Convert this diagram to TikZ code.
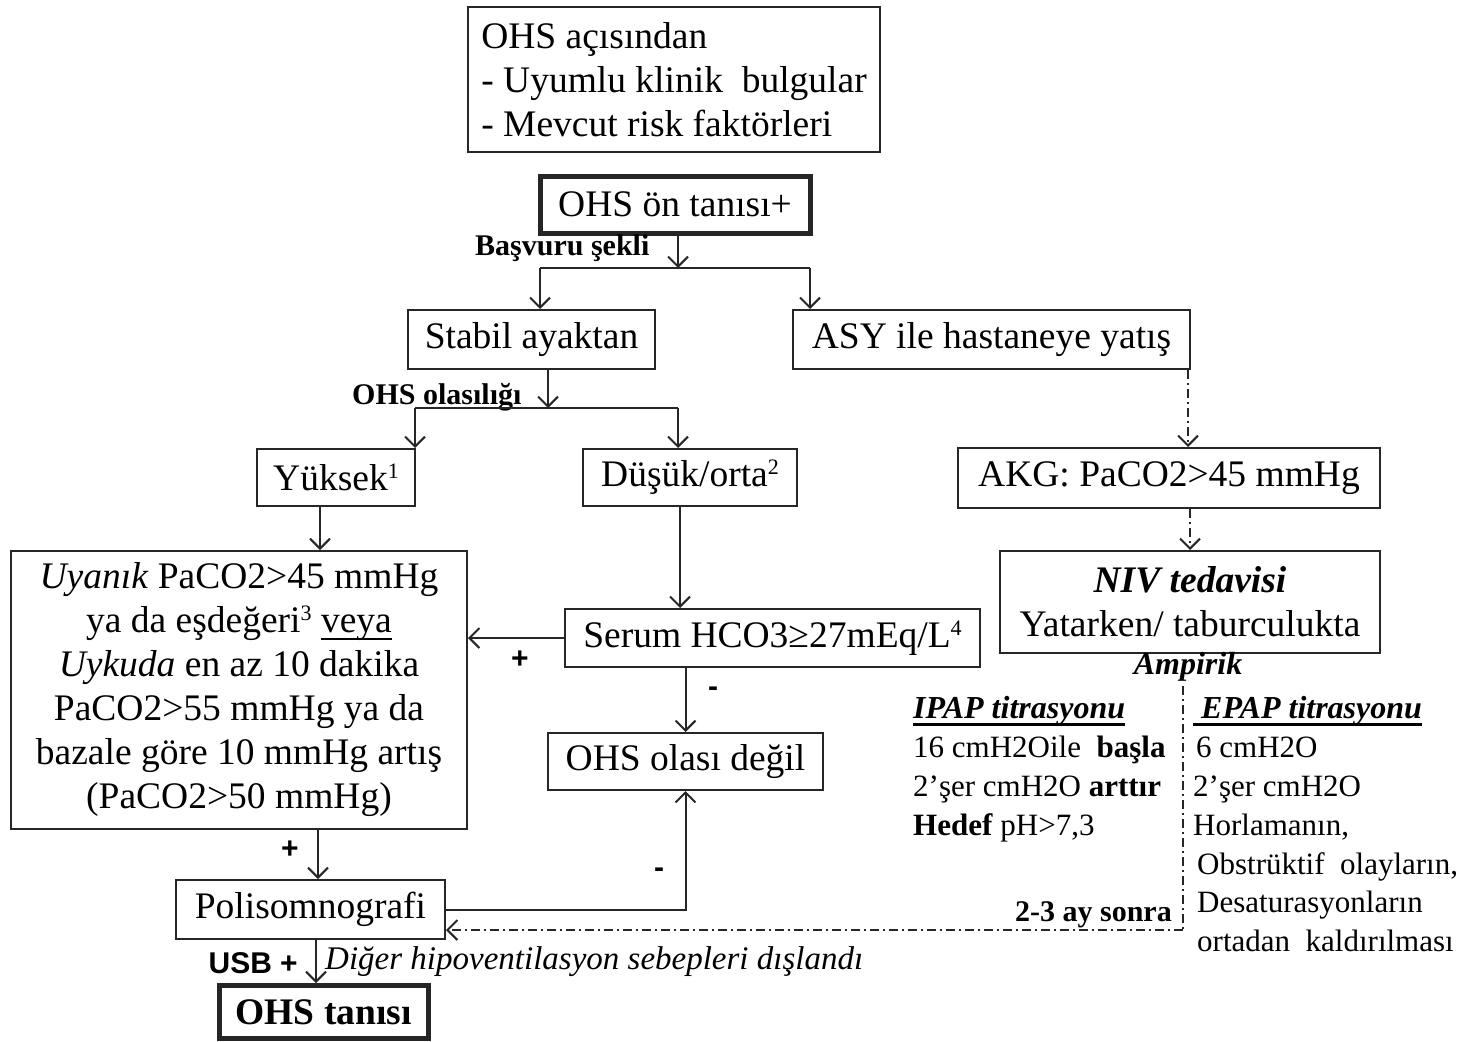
\documentclass[tikz,border=0pt]{standalone}
\usepackage{fontspec}
\setmainfont{Liberation Serif}
\newfontfamily\labelsans{Liberation Sans}
\usetikzlibrary{arrows.meta,calc}
\definecolor{linecol}{HTML}{262626}
\newcommand\fsmain{\fontsize{37.5}{44}\selectfont}
\newcommand\fssmall{\fontsize{31}{39}\selectfont}
% small raised footnote number
\newcommand\supnum[1]{\raisebox{12pt}{\fontsize{22}{22}\selectfont #1}}
% underline with a rule of given thickness, a fixed drop below the baseline
\newcommand\ulbar[2][2pt]{\leavevmode\setbox0\hbox{#2}%
  \rlap{\vrule width \wd0 height -5pt depth \dimexpr5pt+#1\relax}\box0}
\begin{document}
\begin{tikzpicture}[x=1pt,y=-1pt,
  box/.style={draw=linecol, line width=2pt, inner sep=0pt, align=center, font=\fsmain},
  heavybox/.style={box, line width=5pt},
  plain/.style={draw=linecol, line width=2pt},
  arr/.style={plain, -{Straight Barb[length=10pt,width=20pt,line width=2pt]}},
  dashdot/.style={plain, dash pattern=on 9pt off 4pt on 2pt off 4pt},
  tag/.style={font=\fontsize{30}{30}\selectfont\bfseries, inner sep=0pt},
  sign/.style={font=\labelsans\fontsize{30}{30}\selectfont\bfseries, inner sep=0pt},
  coltext/.style={font=\fssmall, inner sep=0pt, anchor=base west},
  colhead/.style={coltext, font=\fontsize{32}{39}\selectfont\bfseries\itshape},
]
\useasboundingbox (0,0) rectangle (1471,1041);
\fill[white] (0,0) rectangle (1471,1041);

% boxes
\node[box, align=left, minimum width=412pt, minimum height=145pt] (risk) at (674,79.5)
  {OHS açısından\\- Uyumlu klinik\ \ bulgular\\- Mevcut risk faktörleri};
\node[heavybox, minimum width=270pt, minimum height=57pt] (pre) at (675,204.5) {OHS ön tanısı+};
\node[box, minimum width=247pt, minimum height=59pt] (stabil) at (531.5,339.5) {Stabil ayaktan};
\node[box, minimum width=397pt, minimum height=59pt] (asy) at (991.5,339.5) {ASY ile hastaneye yatış};
\node[box, minimum width=158pt, minimum height=57pt] (yuksek) at (336,477.5) {Yüksek\supnum{1}};
\node[box, minimum width=214pt, minimum height=57pt] (dusuk) at (690,477.5) {Düşük/orta\supnum{2}};
\node[box, minimum width=422pt, minimum height=60pt] (akg) at (1169,478) {AKG: PaCO2>45 mmHg};
\node[box, minimum width=380pt, minimum height=102pt] (niv) at (1190,602)
  {\textbf{\textit{NIV tedavisi}}\\Yatarken/ taburculukta};
\node[box, minimum width=456pt, minimum height=278pt] (uyanik) at (239,690)
  {\textit{Uyanık} PaCO2>45 mmHg\\ya da eşdeğeri\supnum{3} \ulbar[1.6pt]{veya}\\\textit{Uykuda} en az 10 dakika\\PaCO2>55 mmHg ya da\\bazale göre 10 mmHg artış\\(PaCO2>50 mmHg)};
\node[box, minimum width=415pt, minimum height=58pt] (serum) at (772.5,638) {Serum HCO3≥27mEq/L\supnum{4}};
\node[box, minimum width=275pt, minimum height=57pt] (degil) at (685.5,761.5) {OHS olası değil};
\node[box, minimum width=269pt, minimum height=59pt] (psg) at (310.5,909.5) {Polisomnografi};
\node[heavybox, minimum width=209pt, minimum height=53pt, font=\fsmain\bfseries] (tani) at (323.5,1012) {OHS tanısı};

% branch labels
\node[tag, anchor=west] (basvuru) at (475,248) {Başvuru şekli};
\node[tag, anchor=west] (olasilik) at (352,397) {OHS olasılığı};
\node[sign] (p1) at (520,660) {+};
\node[sign] (m1) at (713,692) {-};
\node[sign] (p2) at (290,850) {+};
\node[sign] (m2) at (659,873) {-};
\node[tag, anchor=east] (later) at (1172,915) {2-3 ay sonra};
\node[font=\fontsize{32}{32}\selectfont\bfseries\itshape, inner sep=0pt] (ampirik) at (1188,667) {Ampirik};
\node[font=\labelsans\fontsize{30}{30}\selectfont\bfseries, inner sep=0pt, anchor=east] (usb) at (298,963) {USB +};
\node[font=\fontsize{33}{33}\selectfont\itshape, inner sep=0pt, anchor=west] (note) at (325,962)
  {Diğer hipoventilasyon sebepleri dışlandı};

% titration columns
\node[colhead] (ipap) at (913,718) {\ulbar[3pt]{IPAP titrasyonu}};
\node[coltext] (ip1) at (913,757) {16 cmH2Oile\ \ \textbf{başla}};
\node[coltext] (ip2) at (913,796) {2’şer cmH2O \textbf{arttır}};
\node[coltext] (ip3) at (913,835) {\textbf{Hedef} pH>7,3};
\node[colhead] (epap) at (1193,718) {\ulbar[3pt]{\ EPAP titrasyonu}};
\node[coltext] (ep1) at (1196,757) {6 cmH2O};
\node[coltext] (ep2) at (1193,796) {2’şer cmH2O};
\node[coltext] (ep3) at (1193,835) {Horlamanın,};
\node[coltext] (ep4) at (1197,874) {Obstrüktif\ \ olayların,};
\node[coltext] (ep5) at (1197,912) {Desaturasyonların};
\node[coltext] (ep6) at (1197,951) {ortadan\ \ kaldırılması};

% junction points
\coordinate (split1) at (678,268);
\coordinate (split1l) at (540,268);
\coordinate (split1r) at (810,268);
\coordinate (split2) at (548,408);
\coordinate (split2l) at (415,408);
\coordinate (split2r) at (678,408);
\coordinate (colA) at (320,0);
\coordinate (colB) at (680,0);
\coordinate (colC) at (318,0);
\coordinate (colD) at (316,0);
\coordinate (colE) at (1188,0);
\coordinate (divtop) at (1183,686);
\coordinate (divbot) at (1183,930);

% connectors
\draw[arr] (split1 |- pre.south) -- (split1);
\draw[plain] (split1l) -- (split1r);
\draw[arr] (split1l) -- (split1l |- stabil.north);
\draw[arr] (split1r) -- (split1r |- asy.north);
\draw[arr] (split2 |- stabil.south) -- (split2);
\draw[plain] (split2l) -- (split2r);
\draw[arr] (split2l) -- (split2l |- yuksek.north);
\draw[arr] (split2r) -- (split2r |- dusuk.north);
\draw[arr] (colA |- yuksek.south) -- (colA |- uyanik.north);
\draw[arr] (colB |- dusuk.south) -- (colB |- serum.north);
\draw[arr] (serum.west) -- (serum.west -| uyanik.east);
\draw[arr] (degil.north |- serum.south) -- (degil.north);
\draw[arr] (colC |- uyanik.south) -- (colC |- psg.north);
\draw[arr] (psg.east) -| (degil.south);
\draw[arr] (colD |- psg.south) -- (colD |- tani.north);
\draw[arr, dashdot] (colE |- asy.south) -- (colE |- akg.north);
\draw[arr, dashdot] (niv.north |- akg.south) -- (niv.north);
\draw[dashdot] (divtop) -- (divbot);
\draw[arr, dashdot] (divbot) -- (divbot -| psg.east);
\end{tikzpicture}
\end{document}
